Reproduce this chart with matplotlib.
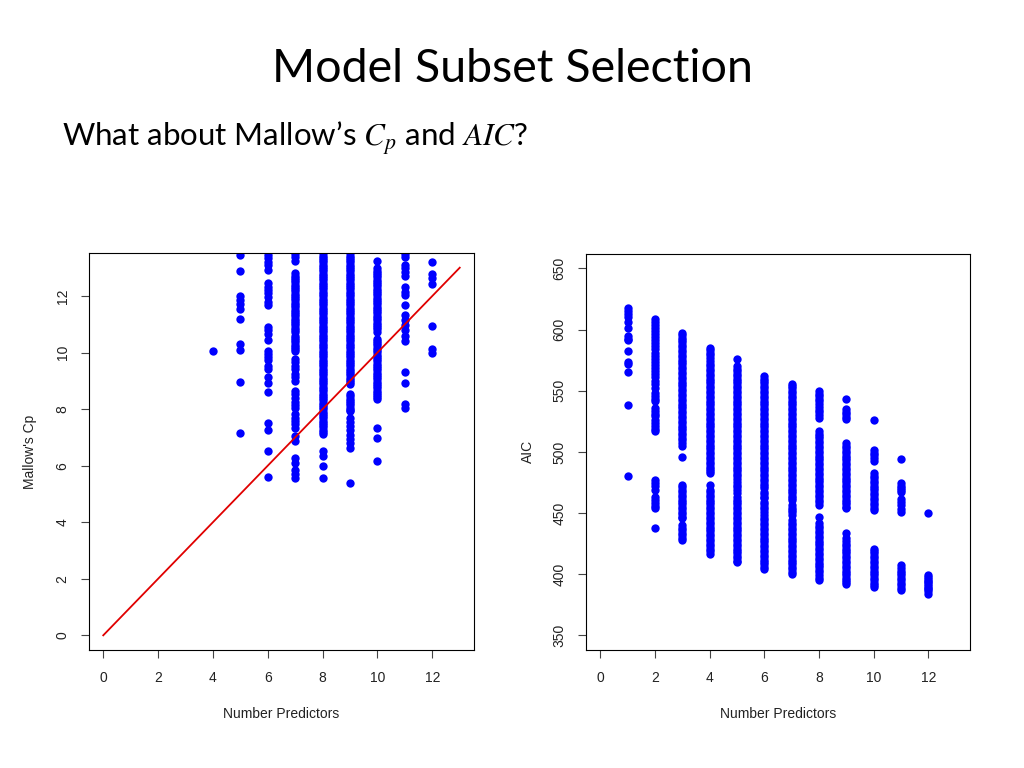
import numpy as np
import matplotlib
matplotlib.use('Agg')
import matplotlib.pyplot as plt

# Mallow's Cp by number of predictors (left panel)
cp_values = {
    4: [10.04],
    5: [13.45, 12.87, 12.0, 11.85, 11.73, 11.53, 11.17, 10.31, 10.1, 8.97, 7.15],
    6: [13.45, 13.33, 13.21, 13.1, 12.92, 12.45, 12.32, 12.21, 12.09, 11.97, 11.79, 11.67,
        10.9, 10.78, 10.67, 10.45, 10.07, 9.95, 9.83, 9.72, 9.54, 9.42, 9.12, 8.94, 8.59,
        7.52, 7.26, 6.51, 5.59],
    7: [13.49, 13.37, 13.25,
        12.8, 12.72, 12.64, 12.56, 12.48, 12.4, 12.32, 12.24, 12.16, 12.08, 12.0, 11.92,
        11.84, 11.76, 11.68, 11.6, 11.52, 11.44, 11.36, 11.28, 11.2, 11.12, 11.04, 10.96,
        10.88, 10.8, 10.72, 10.6, 10.52, 10.44, 10.36, 10.28, 10.2, 10.12, 10.07,
        9.78, 9.65, 9.52, 9.4, 9.25, 9.12, 9.0, 8.65, 8.52, 8.39, 8.26, 8.15, 8.05,
        7.82, 7.7, 7.58, 7.46, 7.34, 7.05, 6.87, 6.27, 6.1, 5.86, 5.72, 5.56],
    8: [13.51, 13.43, 13.35, 13.27, 13.19, 13.11, 13.03, 12.95, 12.87, 12.79, 12.71, 12.63,
        12.55, 12.47, 12.39, 12.31, 12.23, 12.15, 12.07, 11.99, 11.91, 11.83, 11.75, 11.67,
        11.59, 11.51, 11.43, 11.35, 11.27, 11.19, 11.11, 11.03, 10.95, 10.87, 10.79, 10.71,
        10.63, 10.55, 10.47, 10.39, 10.31, 10.23, 10.15, 10.07, 9.99, 9.91, 9.83, 9.75,
        9.67, 9.59, 9.51, 9.43, 9.35, 9.27, 9.19, 9.11, 9.03, 8.95, 8.87, 8.79, 8.71, 8.63,
        8.55, 8.47, 8.39, 8.31, 8.23, 8.15, 8.07, 7.99, 7.91, 7.83, 7.75, 7.67, 7.59, 7.51,
        7.43, 7.35, 7.27, 7.19, 7.11,
        6.51, 6.33, 5.98, 5.56],
    9: [13.51, 13.43, 13.35, 13.27, 13.19, 13.11, 13.03, 12.95, 12.87, 12.79, 12.71, 12.63,
        12.55, 12.47, 12.39, 12.31, 12.23, 12.15, 12.07, 11.99, 11.91, 11.83, 11.75, 11.67,
        11.59, 11.51, 11.43, 11.35, 11.27, 11.19, 11.11, 11.03, 10.95, 10.87, 10.79, 10.71,
        10.63, 10.55, 10.47, 10.39, 10.31, 10.23, 10.15, 10.07, 9.99, 9.91, 9.83, 9.75,
        9.67, 9.59, 9.51, 9.43, 9.35, 9.27, 9.19, 9.11, 9.03, 8.95, 8.89,
        8.53, 8.45, 8.37, 8.29, 8.21, 8.13, 8.05, 7.97, 7.94,
        7.7, 7.55, 7.4, 7.25, 7.1, 6.95, 6.8, 6.63, 5.38],
    10: [13.25,
         12.98, 12.9, 12.82, 12.74, 12.66, 12.58, 12.5, 12.42, 12.34, 12.26, 12.18, 12.1,
         12.02, 11.94, 11.86, 11.78, 11.7, 11.62, 11.54, 11.46, 11.38, 11.3, 11.22, 11.14,
         11.06, 10.98, 10.9, 10.82, 10.72,
         10.49, 10.41, 10.33, 10.25, 10.17, 10.09, 10.01, 9.93, 9.85, 9.77, 9.69, 9.61,
         9.53, 9.45, 9.37, 9.29, 9.21, 9.13, 9.05, 8.97, 8.89, 8.81, 8.73, 8.65, 8.57,
         8.49, 8.41, 8.35,
         7.34, 6.99, 6.16],
    11: [13.49, 13.39, 13.1, 12.98, 12.84, 12.7, 12.32, 12.15, 12.03, 11.67, 11.32, 11.14,
         10.96, 10.78, 10.6, 10.4, 9.3, 8.94, 8.17, 8.03],
    12: [13.19, 12.78, 12.62, 12.41, 10.94, 10.13, 9.98],
}
line_x = [0, 13]
line_y = [0, 13]

# AIC by number of predictors (right panel)
aic_values = {
    1: [617.7, 615.5, 612.8, 610.0, 606.4, 601.3, 594.9, 592.7, 591.4, 582.6, 573.8, 571.7,
        565.6, 538.0, 479.9],
    2: [609, 606.5, 604, 601.5, 599, 596.5, 594, 591.5, 589, 586.5, 584, 581, 578.5, 576,
        573.5, 571, 568.5, 566, 563.5, 561, 558, 555.5, 552.5, 548.4, 545.6, 542.9, 541.5,
        536, 533.5, 531, 529, 526, 523.5, 521, 519, 517,
        477, 474.5, 472, 469, 463, 460.5, 458, 455.5, 453.8, 438],
    3: [597.6, 595.5, 593.5, 591.5, 589.5, 587.5, 585.5, 583.5, 581.5, 579.5, 577.5, 575.5,
        573.5, 571.5, 569.5, 567.5, 565.5, 563.5, 561.5, 559.5, 557.5, 555.5, 553.5, 551.5,
        549.5, 547.5, 545.5, 543.5, 541.5, 539.5, 537.5, 535.5, 533.5, 531.5, 529.5, 527.5,
        525.5, 523.5, 521.5, 519.5, 517.5, 515.5, 513.5, 511.5, 509.5, 507.2,
        504.5, 495.5,
        473, 471, 469, 467, 465, 463, 461, 459, 457, 455, 453, 451, 449, 447, 445.6,
        440.2, 438, 436, 434, 432, 430, 427.8],
    4: [585.3, 583, 581, 579, 577.1,
        574, 572, 570, 568, 566, 564, 562, 560, 558, 556, 554, 552, 550, 548, 546, 544, 542,
        540, 538, 536, 534, 532, 530, 528, 526, 524, 522, 520, 518, 516, 514, 512, 510, 508,
        506, 504, 502, 500, 498, 496, 494, 492, 490, 488, 486, 484, 482.6,
        473.0,
        469, 467, 465, 463, 461, 459, 457, 455, 453, 451, 449, 447, 445, 443, 441, 439, 437,
        435, 433, 431, 429, 427, 425, 423, 421, 419, 416.8],
    5: [576.3,
        570, 568, 566, 564, 562, 560, 558, 556, 554, 552, 550, 548, 546, 544, 542, 540, 538,
        536, 534, 532, 530, 528, 526, 524, 522, 520, 518, 516, 514, 512, 510, 508, 506, 504,
        502, 500, 498, 496, 494, 492, 490, 488, 486, 484, 482, 480, 478, 475.7,
        473, 471, 469, 466.1,
        463, 461, 459, 457, 455, 453, 451, 449, 447, 445, 443, 441, 439, 437, 435, 433, 431,
        429, 427, 425, 423, 421, 419, 417, 415, 413, 411, 410],
    6: [562, 560, 558, 556, 554, 552, 550, 548, 546, 544, 542, 540, 538, 536, 534, 532, 530,
        528, 526, 524, 522, 520, 518, 516, 514, 512, 510, 508, 506, 504, 502, 500, 498, 496,
        494, 492, 490, 488, 486, 484, 482, 480, 478, 476, 474, 472, 470.2,
        467.5, 465.5, 463.5, 462, 459.3, 457, 455, 453, 451.1,
        448.4, 446, 444, 442, 440, 438, 436, 434, 432, 430, 428, 426, 424, 422, 420, 418, 416,
        414, 412, 410, 408, 406, 404.5],
    7: [555.7, 554, 552, 550, 548, 546, 544, 542, 540, 538, 536, 534, 532, 530, 528, 526,
        524, 522, 520, 518, 516, 514, 512, 510, 508, 506, 504, 502, 500, 498, 496, 494, 492,
        490, 488, 486, 484, 482, 480, 478, 476, 474, 472, 470, 468, 466, 464, 462, 460.7,
        456.6, 454.5, 452.5, 450.5, 448.4,
        444.3, 442, 440, 438, 436, 434, 432, 430, 428, 426, 424, 422, 420, 418, 416, 414, 412,
        410, 408, 406, 404, 402, 400.4],
    8: [549.7, 547.5, 545.5, 543.5, 541.5, 538.8, 536.5, 534.5, 532.5, 530.5, 528,
        516.8, 515, 513, 511, 509, 507, 505, 503, 501, 499, 497, 495, 493, 491, 489, 487,
        485, 483, 481, 479, 477, 475, 473, 471, 469, 467, 465, 463, 461, 459, 456.6,
        447.0,
        441.5, 439.5, 437.5, 435.5, 433.5, 431.5, 429.5, 427.5, 425.5, 423.5, 421.5, 419.5,
        417.5, 415.5, 413.5, 411.5, 409.5, 407.5, 405.5, 403.5, 401.5, 399.5, 397, 395],
    9: [542.9, 534.7, 532.5, 530.6, 528.5, 526.5,
        507.2, 505, 503, 501, 499, 497, 495, 493, 491, 489, 487, 485, 483, 481, 479, 477, 475,
        473, 471, 469, 467, 465, 463, 461, 459, 457, 455, 453.8,
        433.3,
        429.2, 427, 425, 423, 421, 419, 417, 415, 413, 411, 409, 407, 405, 403, 401, 399, 397,
        395, 393.5, 392.2],
    10: [525.9, 501.8, 499.5, 497.5, 495, 492.2,
         482.6, 480.5, 478.5, 476.5, 474.5, 472.5, 470.5, 468.5, 466.5, 464.5, 462.5, 460.5,
         458.5, 456.5, 454.5, 452.5,
         420.9, 419, 417, 415, 413, 411, 409, 407, 405, 403, 401, 399, 397, 395, 393, 391,
         389.5],
    11: [494.1, 474.4, 472.5, 470.8, 469, 467.5, 461.5, 459, 456.6, 453.5, 451.1,
         407.3, 405, 403, 401, 399, 397, 395, 393, 391, 389, 386.7],
    12: [450.3, 399.1, 397.5, 396, 394.5, 393.6, 392, 390.5, 389, 388.1, 386, 383.9],
}

x_ticks = [0, 2, 4, 6, 8, 10, 12]
cp_ticks = [0, 2, 4, 6, 8, 10, 12]
aic_ticks = [350, 400, 450, 500, 550, 600, 650]


def r_style(ax, yticks):
    for s in ax.spines.values():
        s.set_linewidth(0.8)
        s.set_color('black')
    ax.set_xticks(x_ticks)
    ax.set_yticks(yticks)
    ax.set_yticklabels([str(t) for t in yticks], rotation=90, va='center')
    ax.tick_params(direction='out', length=6, width=0.8, color='#444444',
                   labelsize=10, labelcolor='#222222')
    ax.tick_params(axis='x', pad=9)
    ax.tick_params(axis='y', pad=8)


def draw_panel(ax, values, yticks, ylim, ylabel):
    for k, ys in values.items():
        ax.plot([k] * len(ys), ys, 'o', color='#0000FF', markersize=6,
                markeredgewidth=0, clip_on=True)
    ax.set_xlim(-0.52, 13.52)
    ax.set_ylim(*ylim)
    r_style(ax, yticks)
    ax.set_xlabel('Number Predictors', fontsize=10, color='#222222', labelpad=16)
    ax.set_ylabel(ylabel, fontsize=10, color='#222222', labelpad=13)


plt.rcParams['font.family'] = ['Liberation Sans', 'DejaVu Sans']
plt.rcParams['mathtext.fontset'] = 'stix'

fig = plt.figure(figsize=(10.24, 7.68), dpi=100)

ax1 = fig.add_axes([0.0869, 0.1536, 0.376, 0.517])
draw_panel(ax1, cp_values, cp_ticks, (-0.52, 13.52), "Mallow's Cp")
ax1.plot(line_x, line_y, color='#E00000', linewidth=1.3)

ax2 = fig.add_axes([0.5723, 0.1536, 0.375, 0.516])
draw_panel(ax2, aic_values, aic_ticks, (338, 662), 'AIC')

fig.text(0.5, 0.893, 'Model Subset Selection', ha='center', va='baseline',
         fontsize=33.5, family=['Lato', 'DejaVu Sans'])
fig.text(0.0605, 0.809, 'What about Mallow\u2019s $C_p$ and $AIC$?', ha='left',
         va='baseline', fontsize=22.5, family=['Lato', 'DejaVu Sans'])

fig.savefig('out.png', dpi=100)
